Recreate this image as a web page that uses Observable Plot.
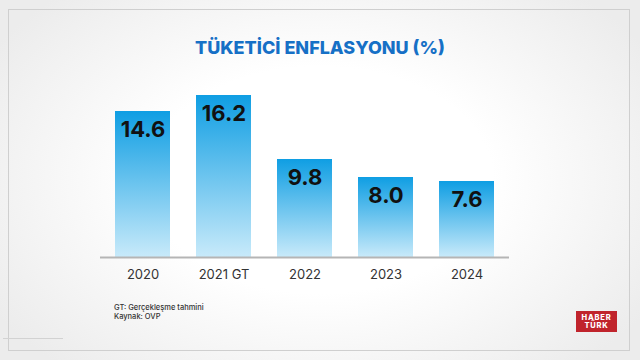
<!DOCTYPE html>
<html>
<head>
<meta charset="utf-8">
<script src="https://cdn.jsdelivr.net/npm/d3@7"></script>
<script src="https://cdn.jsdelivr.net/npm/@observablehq/plot@0.6"></script>
<style>
  html, body { margin: 0; padding: 0; }
  body { width: 640px; height: 360px; overflow: hidden; font-family: Inter, "Open Sans", sans-serif; }
  #wrap { position: relative; width: 640px; height: 360px;
    background: radial-gradient(ellipse 60% 70% at 50% 50%, #ffffff 45%, #ececec 100%); }
  #frame { position: absolute; left: 8px; top: 9px; width: 622px; height: 342px; border: 1px solid #cfcfcf; box-sizing: border-box; }
  #deco { position: absolute; left: 3px; top: 338px; width: 60px; height: 1px; background: #d2d2d2; }
  #title { position: absolute; left: 0; width: 640px; top: 37px; text-align: center;
    font-size: 18px; font-weight: 800; color: #1670c6; letter-spacing: 0px; }
  #chart { position: absolute; left: 0; top: 0; }
  #notes { position: absolute; left: 114px; top: 303px; font-size: 7.5px; line-height: 9px; color: #333; font-weight: 500; }
  #logo { position: absolute; left: 576px; top: 311px; width: 41px; height: 21px; background: #c0242c;
    color: #fff; font-weight: 800; font-size: 7.5px; line-height: 8px; text-align: center; padding-top: 3px; box-sizing: border-box; letter-spacing: 0.8px; }
</style>
</head>
<body>
<div id="wrap">
  <div id="frame"></div>
  <div id="deco"></div>
  <div id="title">TÜKETİCİ ENFLASYONU (%)</div>
  <div id="chart"></div>
  <div id="notes">GT: Gerçekleşme tahmini<br>Kaynak: OVP</div>
  <div id="logo">HABER<br>TÜRK</div>
</div>
<script>
const years = ["2020", "2021 GT", "2022", "2023", "2024"];
const inflation = [14.6, 16.2, 9.8, 8.0, 7.6];
const valueLabels = ["14.6", "16.2", "9.8", "8.0", "7.6"];

const data = years.map((y, i) => ({year: y, value: inflation[i], label: valueLabels[i]}));

const plot = Plot.plot({
  width: 640,
  height: 290,
  marginLeft: 100,
  marginRight: 131,
  marginTop: 57,
  marginBottom: 33,
  style: {background: "transparent", fontFamily: "Inter, 'Open Sans', sans-serif"},
  x: {domain: years, paddingInner: 0.315, paddingOuter: 0.1575, label: null},
  y: {domain: [0, 20], axis: null},
  marks: [
    Plot.barY(data, {x: "year", y: "value", fill: "url(#barGrad)"}),
    Plot.ruleY([0], {stroke: "#b5b5b5", strokeWidth: 2}),
    Plot.text(data, {x: "year", y: "value", text: "label", dy: 18, fontSize: 22, fontWeight: 700, fill: "#111"}),
    Plot.axisX({tickSize: 0, tickPadding: 12, fontSize: 13, color: "#333", label: null})
  ]
});

const svg = d3.select(plot);
const defs = svg.insert("defs", ":first-child");
const g = defs.append("linearGradient").attr("id", "barGrad").attr("x1", 0).attr("y1", 0).attr("x2", 0).attr("y2", 1);
g.append("stop").attr("offset", "0%").attr("stop-color", "#0f9ee3");
g.append("stop").attr("offset", "100%").attr("stop-color", "#c8eafa");

document.getElementById("chart").appendChild(plot);
</script>
</body>
</html>
